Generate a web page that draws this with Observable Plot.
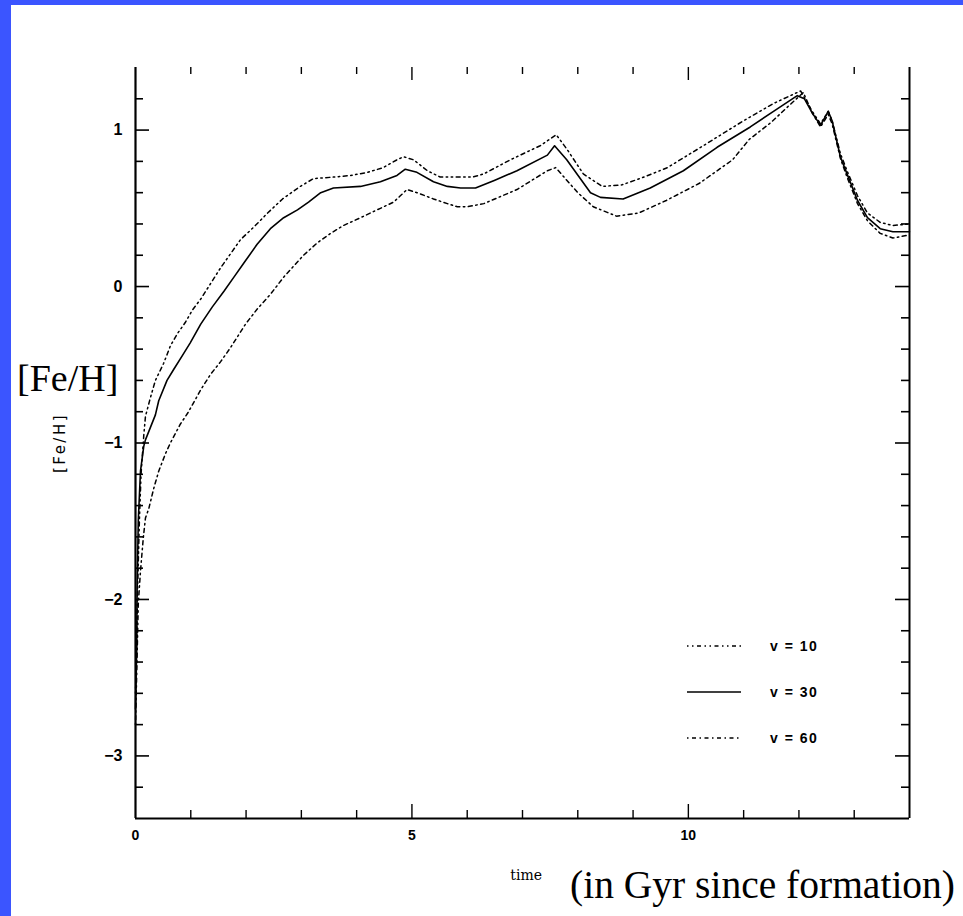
<!DOCTYPE html>
<html>
<head>
<meta charset="utf-8">
<script src="https://cdn.jsdelivr.net/npm/d3@7"></script>
<script src="https://cdn.jsdelivr.net/npm/@observablehq/plot@0.6"></script>
<style>
  html, body { margin: 0; padding: 0; background: #fff; }
  #wrap { position: relative; width: 963px; height: 916px; overflow: hidden; background: #fff; }
  #chart { position: absolute; left: 0; top: 0; }
  #overlay { position: absolute; left: 0; top: 0; pointer-events: none; }
  .bar { position: absolute; background: #3b55ff; }
</style>
</head>
<body>
<div id="wrap">
  <div id="chart"></div>
  <svg id="overlay" width="963" height="916"></svg>
  <div class="bar" style="left:0;top:0;width:963px;height:5px"></div>
  <div class="bar" style="left:0;top:0;width:11px;height:916px"></div>
</div>
<script>
// ---- data ----
const time10 = [0, 0.02, 0.04, 0.07, 0.1, 0.15, 0.18, 0.27, 0.36, 0.51, 0.63, 0.76, 0.9, 1.03, 1.18, 1.36, 1.54, 1.72, 1.9, 2.14, 2.39, 2.66, 2.98, 3.22, 3.6, 3.89, 4.2, 4.48, 4.73, 4.85, 5.03, 5.28, 5.51, 5.82, 6.1, 6.3, 6.78, 7.32, 7.61, 7.8, 8.1, 8.44, 8.8, 9.2, 9.62, 10.27, 11.0, 11.54, 12.03, 12.24, 12.39, 12.53, 12.6, 12.75, 12.87, 13.06, 13.24, 13.47, 13.7, 14.0];
const feh10  = [-2.6, -2.3, -1.9, -1.5, -1.2, -0.95, -0.83, -0.71, -0.60, -0.49, -0.38, -0.30, -0.23, -0.15, -0.08, 0.02, 0.12, 0.21, 0.30, 0.38, 0.47, 0.56, 0.64, 0.69, 0.70, 0.71, 0.73, 0.76, 0.81, 0.83, 0.81, 0.74, 0.70, 0.70, 0.70, 0.72, 0.81, 0.90, 0.97, 0.88, 0.72, 0.64, 0.65, 0.70, 0.76, 0.90, 1.06, 1.17, 1.25, 1.12, 1.04, 1.12, 1.06, 0.85, 0.74, 0.58, 0.47, 0.41, 0.39, 0.40];

const time30 = [0, 0.02, 0.03, 0.05, 0.09, 0.15, 0.18, 0.27, 0.36, 0.42, 0.57, 0.69, 0.85, 0.99, 1.18, 1.39, 1.6, 1.78, 1.96, 2.2, 2.44, 2.68, 2.93, 3.13, 3.35, 3.58, 4.07, 4.43, 4.73, 4.88, 5.09, 5.39, 5.64, 5.88, 6.15, 6.5, 6.9, 7.45, 7.58, 7.8, 8.23, 8.41, 8.82, 9.31, 9.91, 10.52, 11.12, 11.54, 11.97, 12.1, 12.24, 12.39, 12.53, 12.6, 12.75, 12.87, 13.06, 13.24, 13.47, 13.7, 14.0];
const feh30  = [-2.7, -2.35, -1.93, -1.5, -1.18, -1.02, -0.98, -0.90, -0.82, -0.73, -0.60, -0.53, -0.44, -0.36, -0.24, -0.13, -0.03, 0.06, 0.15, 0.27, 0.37, 0.44, 0.49, 0.54, 0.60, 0.63, 0.64, 0.67, 0.71, 0.75, 0.73, 0.67, 0.64, 0.63, 0.63, 0.68, 0.74, 0.84, 0.90, 0.81, 0.60, 0.57, 0.56, 0.63, 0.74, 0.89, 1.02, 1.12, 1.22, 1.20, 1.11, 1.03, 1.12, 1.06, 0.83, 0.72, 0.55, 0.44, 0.37, 0.35, 0.35];

const time60 = [0, 0.03, 0.05, 0.09, 0.14, 0.18, 0.24, 0.33, 0.42, 0.54, 0.63, 0.81, 0.96, 1.18, 1.36, 1.54, 1.72, 1.99, 2.21, 2.44, 2.68, 2.86, 3.04, 3.29, 3.53, 3.76, 4.07, 4.43, 4.67, 4.79, 4.91, 5.09, 5.39, 5.64, 5.82, 6.0, 6.3, 6.9, 7.45, 7.6, 8.0, 8.28, 8.7, 9.1, 9.6, 10.2, 10.8, 11.1, 11.5, 11.8, 12.08, 12.24, 12.39, 12.53, 12.6, 12.75, 12.87, 13.06, 13.24, 13.47, 13.7, 14.0];
const feh60  = [-2.8, -2.35, -2.03, -1.82, -1.61, -1.48, -1.42, -1.29, -1.18, -1.07, -1.0, -0.88, -0.80, -0.66, -0.56, -0.48, -0.39, -0.24, -0.14, -0.05, 0.06, 0.13, 0.20, 0.28, 0.34, 0.39, 0.44, 0.50, 0.54, 0.58, 0.62, 0.60, 0.56, 0.53, 0.51, 0.51, 0.53, 0.62, 0.74, 0.76, 0.60, 0.51, 0.45, 0.47, 0.55, 0.66, 0.81, 0.94, 1.05, 1.15, 1.24, 1.11, 1.02, 1.10, 1.04, 0.82, 0.70, 0.53, 0.42, 0.34, 0.31, 0.33];

const seriesNames = ["v = 10", "v = 30", "v = 60"];
const xTickLabels = [0, 5, 10];
const yTickLabels = [1, 0, -1, -2, -3];
const xMinorTicks = [1, 2, 3, 4, 6, 7, 8, 9, 11, 12, 13];
const xMajorTicks = [5, 10];
const yMinorTicks = [1.2, 0.8, 0.6, 0.4, 0.2, -0.2, -0.4, -0.6, -0.8, -1.2, -1.4, -1.6, -1.8, -2.2, -2.4, -2.6, -2.8, -3.2];
const yMajorTicks = [1, 0, -1, -2, -3];

// ---- table built from arrays ----
const rows = [];
[[time10, feh10, seriesNames[0]], [time30, feh30, seriesNames[1]], [time60, feh60, seriesNames[2]]]
  .forEach(([t, f, s]) => t.forEach((tt, i) => rows.push({time: tt, feh: f[i], series: s})));

const W = 963, H = 916, ML = 135, MR = 54, MT = 67, MB = 98;
const FW = W - ML - MR, FH = H - MT - MB;
const dashes = {"v = 10": "1.5,3.5,1.5,3.5,4,3.5", "v = 30": null, "v = 60": "1.5,3.5,4,3.5"};
const tickFont = "'Liberation Sans', Arial, sans-serif";
const fmt = d => (d < 0 ? "\u2212" + Math.abs(d) : String(d));

const marks = [
  // inward ticks left / right
  Plot.tickY(yMinorTicks, {y: d => d, insetRight: FW - 8, stroke: "#000", strokeWidth: 1.6}),
  Plot.tickY(yMajorTicks, {y: d => d, insetRight: FW - 14, stroke: "#000", strokeWidth: 1.6}),
  Plot.tickY(yMinorTicks, {y: d => d, insetLeft: FW - 8, stroke: "#000", strokeWidth: 1.6}),
  Plot.tickY(yMajorTicks, {y: d => d, insetLeft: FW - 14, stroke: "#000", strokeWidth: 1.6}),
  // inward ticks bottom / top
  Plot.tickX(xMinorTicks, {x: d => d, insetTop: FH - 8, stroke: "#000", strokeWidth: 1.4}),
  Plot.tickX(xMajorTicks, {x: d => d, insetTop: FH - 14, stroke: "#000", strokeWidth: 1.4}),
  Plot.tickX(xMinorTicks, {x: d => d, insetBottom: FH - 7, stroke: "#000", strokeWidth: 1.4}),
  Plot.tickX(xMajorTicks, {x: d => d, insetBottom: FH - 13, stroke: "#000", strokeWidth: 1.4}),
  // axis lines
  Plot.ruleX([0], {stroke: "#000", strokeWidth: 2.2}),
  Plot.ruleX([14], {stroke: "#000", strokeWidth: 2}),
  Plot.ruleY([-3.4], {stroke: "#000", strokeWidth: 2}),
  // tick labels
  Plot.axisY(yTickLabels, {tickSize: 0, tickPadding: 13, label: null, tickFormat: fmt, fontSize: 16, fontWeight: "bold", fontFamily: tickFont}),
  Plot.axisX(xTickLabels, {tickSize: 0, tickPadding: 12, label: null, tickFormat: fmt, fontSize: 14, fontWeight: "bold", fontFamily: tickFont}),
  // curves
  ...seriesNames.map(s => Plot.line(rows.filter(r => r.series === s), {
    x: "time", y: "feh", stroke: "#000", strokeWidth: s === "v = 30" ? 1.6 : 1.5,
    strokeDasharray: dashes[s]
  }))
];

const chart = Plot.plot({
  width: W, height: H,
  marginLeft: ML, marginRight: MR, marginTop: MT, marginBottom: MB,
  x: {domain: [0, 14]},
  y: {domain: [-3.4, 1.4]},
  style: {background: "transparent", color: "#000"},
  marks
});
document.getElementById("chart").append(chart);

// ---- annotations & legend ----
const ov = d3.select("#overlay");
ov.append("text").attr("x", 17).attr("y", 391)
  .attr("font-family", "'Liberation Serif', 'Times New Roman', serif").attr("font-size", 38)
  .text("[Fe/H]");
ov.append("text").attr("transform", "translate(65,443) rotate(-90)")
  .attr("text-anchor", "middle")
  .attr("font-family", "'DejaVu Sans', sans-serif").attr("font-size", 15).attr("letter-spacing", 2.5)
  .text("[Fe/H]");
ov.append("text").attr("x", 542).attr("y", 880).attr("text-anchor", "end")
  .attr("font-family", "'DejaVu Serif', serif").attr("font-size", 14)
  .text("time");
ov.append("text").attr("x", 570).attr("y", 898)
  .attr("font-family", "'Liberation Serif', 'Times New Roman', serif").attr("font-size", 39.5)
  .text("(in Gyr since formation)");

const legY = [646, 692, 738];
seriesNames.forEach((s, i) => {
  const l = ov.append("line").attr("x1", 687).attr("x2", 741).attr("y1", legY[i]).attr("y2", legY[i])
    .attr("stroke", "#000").attr("stroke-width", 1.5);
  if (dashes[s]) l.attr("stroke-dasharray", dashes[s]);
  ov.append("text").attr("x", 770).attr("y", legY[i] + 5)
    .attr("font-family", tickFont).attr("font-size", 14).attr("font-weight", "bold")
    .attr("letter-spacing", 1.5)
    .text(s);
});
</script>
</body>
</html>
